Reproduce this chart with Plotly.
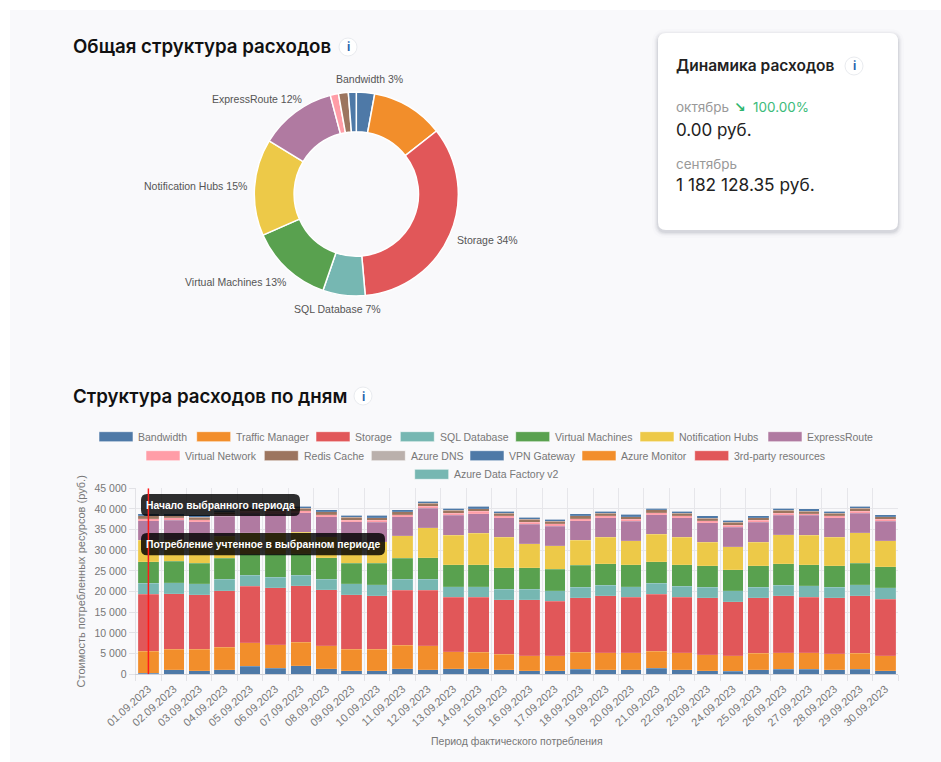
import plotly.graph_objects as go

W, H = 941, 762

dates = ["%02d.09.2023" % d for d in range(1, 31)]

bandwidth = [250,1100,900,1050,1900,1500,2100,1300,800,800,1300,1150,1300,1300,1050,800,800,1200,1100,1100,1500,1100,900,700,1100,1200,1200,1050,1200,800]
traffic_manager = [5350,5000,5100,5550,5700,5700,5650,5550,5250,5250,5700,5700,4100,4000,3850,3650,3700,4100,4100,4100,4100,4100,3800,3750,4050,4000,4000,3950,3950,3700]
storage = [13800,13400,13200,13600,13700,13700,13650,13550,13150,12950,13300,13450,13200,13300,13100,13550,13200,13200,13800,13400,13750,13500,13800,13050,13350,13800,13500,13500,13850,13700]
sql_database = [2600,2600,2700,2800,2700,2600,2600,2600,2700,2700,2700,2700,2600,2600,2600,2600,2500,2600,2600,2600,2650,2600,2600,2700,2600,2500,2700,2600,2700,2700]
virtual_machines = [5200,5200,5000,5050,5000,5500,5200,5200,5000,5150,5100,5200,5250,5250,5200,5200,5200,5300,5200,5300,5200,5200,5200,5100,5200,5200,5100,5200,5150,5100]
notification_hubs = [5200,5300,5300,5350,5300,5200,5200,5100,5200,5250,5400,7300,7250,7650,7300,5800,5650,6000,6300,5800,6700,6600,5700,5600,5700,7100,7200,6800,7450,6300]
express_route = [4800,4700,4700,4800,4700,4700,4700,4800,4800,4700,4600,4700,4800,4800,4800,4700,4750,4800,4800,4700,4700,4800,4700,4700,4800,4700,4800,4800,4700,4700]
virtual_network = [450,600,500,500,400,500,500,500,400,500,500,500,500,500,500,500,600,450,500,500,500,500,500,500,500,500,400,500,500,500]
redis_cache = [650,500,600,500,600,600,600,700,700,600,700,700,700,600,600,700,600,650,600,600,700,600,600,700,600,700,600,600,700,600]
azure_dns = [0,0,0,0,0,0,0,0,0,0,0,0,0,0,0,0,0,0,0,0,0,0,0,0,0,0,0,0,0,0]
vpn_gateway = [500,500,600,500,400,400,500,500,500,600,500,500,500,600,400,500,500,500,400,600,400,400,500,500,500,500,500,400,400,500]
azure_monitor = [0,0,0,0,0,0,0,0,0,0,0,0,0,0,0,0,0,0,0,0,0,0,0,0,0,0,0,0,0,0]
third_party = [0,0,0,0,0,0,0,0,0,0,0,0,0,0,0,0,0,0,0,0,0,0,0,0,0,0,0,0,0,0]
data_factory = [0,0,0,0,0,0,0,0,0,0,0,0,0,0,0,0,0,0,0,0,0,0,0,0,0,0,0,0,0,0]

series_names = ["Bandwidth","Traffic Manager","Storage","SQL Database","Virtual Machines","Notification Hubs","ExpressRoute",
                "Virtual Network","Redis Cache","Azure DNS","VPN Gateway","Azure Monitor","3rd-party resources","Azure Data Factory v2"]
series_values = [bandwidth,traffic_manager,storage,sql_database,virtual_machines,notification_hubs,express_route,
                 virtual_network,redis_cache,azure_dns,vpn_gateway,azure_monitor,third_party,data_factory]
series_colors = ["#4e79a7","#f28e2b","#e15759","#76b7b2","#59a14f","#edc948","#b07aa1",
                 "#ff9da7","#9c755f","#bab0ac","#4e79a7","#f28e2b","#e15759","#76b7b2"]

pie_labels = ["Bandwidth","Traffic Manager","Storage","SQL Database","Virtual Machines","Notification Hubs","ExpressRoute","Virtual Network","Redis Cache","VPN Gateway"]
pie_values = [2.9,11.5,34.2,6.7,13.1,15.3,12.2,1.3,1.55,1.25]
pie_colors = ["#4e79a7","#f28e2b","#e15759","#76b7b2","#59a14f","#edc948","#b07aa1","#ff9da7","#9c755f","#4e79a7"]
pie_text = ["Bandwidth 3%","Storage 34%","SQL Database 7%","Virtual Machines 13%","Notification Hubs 15%","ExpressRoute 12%"]

y_ticks = [0,5000,10000,15000,20000,25000,30000,35000,40000,45000]
y_tick_text = ["0","5 000","10 000","15 000","20 000","25 000","30 000","35 000","40 000","45 000"]

legend_rows = [
    (436.7, [(99,138.5,0),(196.7,236,1),(316,355.6,2),(400.3,440,3),(515.7,555,4),(640,679.7,5),(768,807.7,6)]),
    (455.7, [(146,185,7),(264.3,304,8),(371.3,411,9),(470,509.3,10),(582,621.7,11),(694.7,734.7,12)]),
    (474.3, [(414.7,454,13)]),
]
pie_label_pos = [(369,79),(487,240),(337.5,308.7),(235,281.7),(195,186),(257,99)]

BODY = "Liberation Sans"
HEAD = "Inter"

def px(x): return x / W
def py(y): return 1 - y / H

def rrect(x0, y0, x1, y1, r):
    a, b, c, d = px(x0), py(y0), px(x1), py(y1)
    rx, ry = r / W, r / H
    return (f"M{a+rx},{b} L{c-rx},{b} Q{c},{b} {c},{b-ry} L{c},{d+ry} Q{c},{d} {c-rx},{d} "
            f"L{a+rx},{d} Q{a},{d} {a},{d+ry} L{a},{b-ry} Q{a},{b} {a+rx},{b} Z")

shapes, notes = [], []

def box(x0, y0, x1, y1, r, fill, layer="below", line=None):
    shapes.append(dict(type="path", xref="paper", yref="paper", path=rrect(x0, y0, x1, y1, r),
                       fillcolor=fill, line=dict(width=1 if line else 0, color=line or "rgba(0,0,0,0)"), layer=layer))

def label(x, y, text, size=10.5, color="#666", family=BODY, anchor="left", weight=None):
    f = dict(size=size, color=color, family=family)
    if weight: f["weight"] = weight
    if anchor == "left": x -= 1.5
    notes.append(dict(x=px(x), y=py(y), xref="paper", yref="paper", text=text, showarrow=False,
                      xanchor=anchor, yanchor="middle", font=f, borderpad=0))

def info(cx, cy):
    shapes.append(dict(type="circle", xref="paper", yref="paper", x0=px(cx-9), x1=px(cx+9), y0=py(cy+9), y1=py(cy-9),
                       fillcolor="#ffffff", line=dict(color="#e9ebef", width=1), layer="below"))
    label(cx, cy, "i", size=12, color="#2a66ad", family=HEAD, anchor="center", weight=700)

# page panel
shapes.append(dict(type="rect", xref="paper", yref="paper", x0=px(10), x1=1, y0=0, y1=py(10),
                   fillcolor="#f9f9fb", line=dict(width=0), layer="below"))
# card with soft shadow
for grow, alpha in [(6, .012), (4, .02), (3, .03), (2, .04), (1, .06)]:
    box(658-grow, 33-grow+2, 898+grow, 230+grow+2, 8+grow, f"rgba(30,40,60,{alpha})")
box(658, 33, 898, 230, 8, "#ffffff")

# headings
label(73, 47, "Общая структура расходов", size=18.7, color="#111", family=HEAD, weight=600)
info(348, 47)
label(73, 396, "Структура расходов по дням", size=18.7, color="#111", family=HEAD, weight=600)
info(363, 396)
label(676, 66, "Динамика расходов", size=15.5, color="#222", family=HEAD, weight=600)
info(854, 66)

label(676, 107, "октябрь", size=13.5, color="#999", family=HEAD)
label(734.5, 107, "↘", size=14, color="#2fb56e", family="DejaVu Sans", weight=700)
label(753, 107, "100.00%", size=13.5, color="#3cbb7a", family=HEAD)
label(676, 130, "0.00 руб.", size=17, color="#222", family=HEAD)
label(676, 164, "сентябрь", size=13.5, color="#999", family=HEAD)
label(676, 185, "1 182 128.35 руб.", size=17.3, color="#222", family=HEAD)

# doughnut labels
for (lx, ly), t in zip(pie_label_pos, pie_text):
    label(lx, ly, t, size=10.5, color="#555", anchor="center")

# legend
for row_y, items in legend_rows:
    for sx, tx, idx in items:
        shapes.append(dict(type="rect", xref="paper", yref="paper", x0=px(sx), x1=px(sx+34),
                           y0=py(row_y+5), y1=py(row_y-5), fillcolor=series_colors[idx],
                           line=dict(width=1, color="rgba(255,255,255,.55)"), layer="below"))
        label(tx, row_y, series_names[idx], size=10.5, color="#777")

# tooltips
box(141, 494, 300, 516, 6, "rgba(0,0,0,.82)", layer="above")
box(141, 533, 385, 555.3, 6, "rgba(0,0,0,.82)", layer="above")
label(146, 505, "Начало выбранного периода", size=10.3, color="#fff", weight=700)
label(146, 544, "Потребление учтенное в выбранном периоде", size=10.3, color="#fff", weight=700)
# marker of period start, tied to the first category
shapes.append(dict(type="line", xref="x", yref="y", x0=dates[0], x1=dates[0], y0=0, y1=45000,
                   line=dict(color="#ff1a1a", width=1.5), layer="above"))

fig = go.Figure()
for name, vals, col in zip(series_names, series_values, series_colors):
    fig.add_bar(x=dates, y=vals, name=name, showlegend=False,
                marker=dict(color=col, line=dict(color="rgba(255,255,255,.2)", width=0.6)))

fig.add_pie(labels=pie_labels, values=pie_values, sort=False, direction="clockwise", rotation=0, hole=0.61,
            marker=dict(colors=pie_colors, line=dict(color="#ffffff", width=1.5)),
            textinfo="none", showlegend=False,
            domain=dict(x=[px(254.3), px(458.3)], y=[py(296), py(92)]))

fig.update_layout(
    width=W, height=H, margin=dict(l=0, r=0, t=0, b=0), autosize=False,
    paper_bgcolor="#ffffff", plot_bgcolor="rgba(0,0,0,0)", barmode="stack", bargap=0.19,
    font=dict(family=BODY, size=11, color="#777"), shapes=shapes, annotations=notes,
    xaxis=dict(domain=[px(135.7), px(898)], type="category", tickangle=-42, tickson="boundaries", ticks="outside", ticklen=6,
               tickcolor="#e2e2e6", gridcolor="#e6e6ea", showgrid=True, showline=True, linecolor="#cfd0d6", automargin=False,
               tickfont=dict(size=11, color="#777"), ticklabelstandoff=3,
               title=dict(text="Период фактического потребления", standoff=10, font=dict(size=10.5, color="#777"))),
    yaxis=dict(domain=[py(674.3), py(488.3)], range=[0, 45000], tickvals=y_ticks, ticktext=y_tick_text, ticks="outside", ticklen=6,
               tickcolor="#e2e2e6", gridcolor="#e6e6ea", showline=True, linecolor="#e2e2e6", zeroline=False, automargin=False,
               tickfont=dict(size=10.5, color="#777"),
               title=dict(text="Стоимость потребленных ресурсов (руб.)", standoff=6, font=dict(size=11, color="#777"))),
)
fig.write_html("out.html", config=dict(displayModeBar=False),
               post_script="document.body.style.margin='0';document.body.style.overflow='hidden';")
